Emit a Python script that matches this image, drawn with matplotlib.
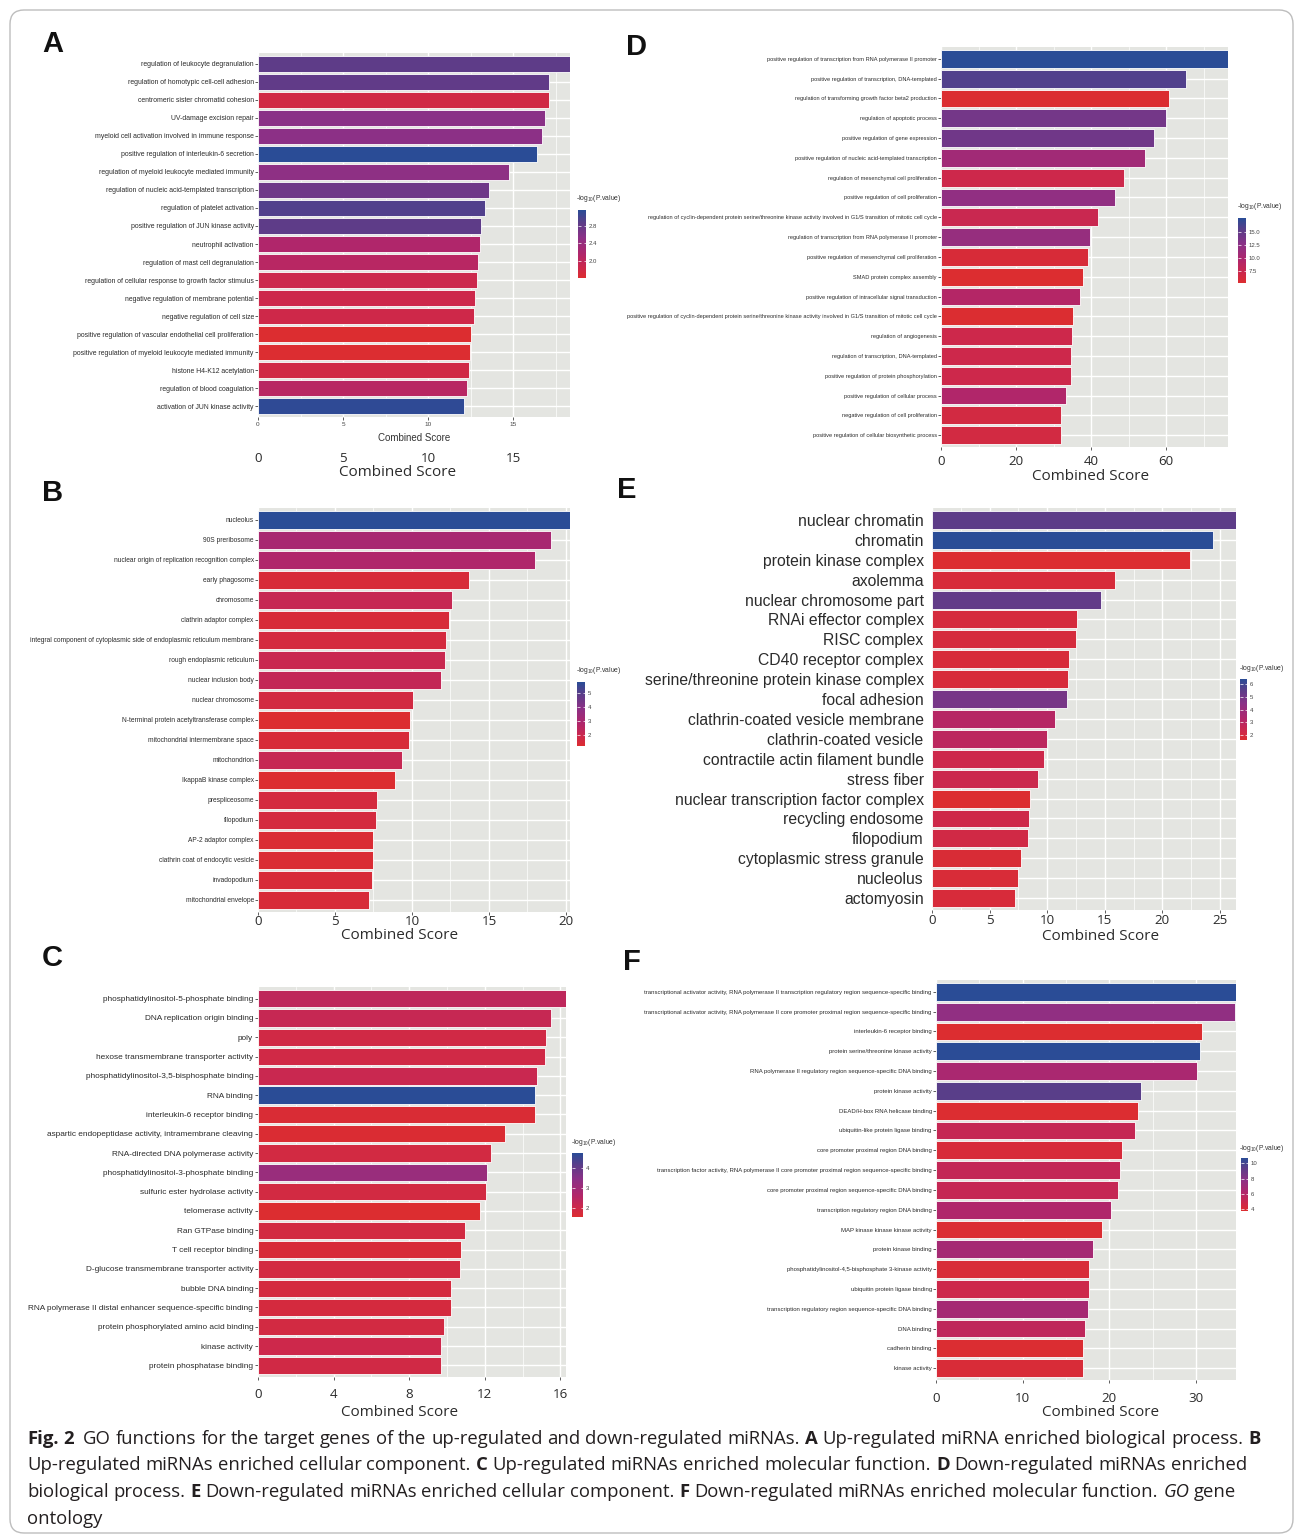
import matplotlib
matplotlib.use('Agg')
import matplotlib.pyplot as plt
import numpy as np
from matplotlib.colors import LinearSegmentedColormap, Normalize
from matplotlib.cm import ScalarMappable
from matplotlib.patches import FancyBboxPatch
from matplotlib.transforms import IdentityTransform, blended_transform_factory

# ---------------- data (top bar first) ----------------
a_terms = ["regulation of leukocyte degranulation", "regulation of homotypic cell-cell adhesion",
           "centromeric sister chromatid cohesion", "UV-damage excision repair",
           "myeloid cell activation involved in immune response",
           "positive regulation of interleukin-6 secretion",
           "regulation of myeloid leukocyte mediated immunity",
           "regulation of nucleic acid-templated transcription", "regulation of platelet activation",
           "positive regulation of JUN kinase activity", "neutrophil activation",
           "regulation of mast cell degranulation",
           "regulation of cellular response to growth factor stimulus",
           "negative regulation of membrane potential", "negative regulation of cell size",
           "positive regulation of vascular endothelial cell proliferation",
           "positive regulation of myeloid leukocyte mediated immunity", "histone H4-K12 acetylation",
           "regulation of blood coagulation", "activation of JUN kinase activity"]
a_score = [18.33, 17.10, 17.10, 16.84, 16.71, 16.41, 14.76, 13.57, 13.35, 13.12,
           13.02, 12.92, 12.86, 12.76, 12.71, 12.51, 12.43, 12.37, 12.25, 12.12]
a_logp = [2.84, 2.82, 1.80, 2.54, 2.52, 3.15, 2.50, 2.72, 2.92, 2.84,
          2.16, 2.08, 1.86, 1.85, 1.84, 1.62, 1.63, 1.80, 2.08, 3.12]

b_terms = ["nucleolus", "90S preribosome", "nuclear origin of replication recognition complex",
           "early phagosome", "chromosome", "clathrin adaptor complex",
           "integral component of cytoplasmic side of endoplasmic reticulum membrane",
           "rough endoplasmic reticulum", "nuclear inclusion body", "nuclear chromosome",
           "N-terminal protein acetyltransferase complex", "mitochondrial intermembrane space",
           "mitochondrion", "IkappaB kinase complex", "prespliceosome", "filopodium",
           "AP-2 adaptor complex", "clathrin coat of endocytic vesicle", "invadopodium",
           "mitochondrial envelope"]
b_score = [20.26, 19.03, 17.99, 13.7, 12.6, 12.4, 12.2, 12.14, 11.88, 10.06,
           9.87, 9.8, 9.35, 8.9, 7.73, 7.66, 7.47, 7.47, 7.4, 7.2]
b_logp = [5.75, 3.02, 2.79, 1.43, 2.11, 1.43, 1.56, 2.02, 2.20, 1.66,
          1.20, 1.43, 2.11, 1.21, 1.56, 1.56, 1.29, 1.29, 1.43, 1.43]

c_terms = ["phosphatidylinositol-5-phosphate binding", "DNA replication origin binding", "poly",
           "hexose transmembrane transporter activity",
           "phosphatidylinositol-3,5-bisphosphate binding", "RNA binding",
           "interleukin-6 receptor binding",
           "aspartic endopeptidase activity, intramembrane cleaving",
           "RNA-directed DNA polymerase activity", "phosphatidylinositol-3-phosphate binding",
           "sulfuric ester hydrolase activity", "telomerase activity", "Ran GTPase binding",
           "T cell receptor binding", "D-glucose transmembrane transporter activity",
           "bubble DNA binding", "RNA polymerase II distal enhancer sequence-specific binding",
           "protein phosphorylated amino acid binding", "kinase activity",
           "protein phosphatase binding"]
c_score = [16.3, 15.5, 15.24, 15.19, 14.76, 14.66, 14.66, 13.07, 12.33, 12.12,
           12.06, 11.75, 10.95, 10.74, 10.69, 10.21, 10.21, 9.84, 9.68, 9.68]
c_logp = [2.35, 2.19, 1.93, 1.95, 2.13, 4.75, 1.65, 1.61, 1.87, 3.15,
          1.88, 1.55, 1.87, 1.71, 1.86, 1.81, 1.81, 1.87, 2.03, 1.93]

d_terms = ["positive regulation of transcription from RNA polymerase II promoter",
           "positive regulation of transcription, DNA-templated",
           "regulation of transforming growth factor beta2 production",
           "regulation of apoptotic process", "positive regulation of gene expression",
           "positive regulation of nucleic acid-templated transcription",
           "regulation of mesenchymal cell proliferation",
           "positive regulation of cell proliferation",
           "regulation of cyclin-dependent protein serine/threonine kinase activity involved in G1/S transition of mitotic cell cycle",
           "regulation of transcription from RNA polymerase II promoter",
           "positive regulation of mesenchymal cell proliferation", "SMAD protein complex assembly",
           "positive regulation of intracellular signal transduction",
           "positive regulation of cyclin-dependent protein serine/threonine kinase activity involved in G1/S transition of mitotic cell cycle",
           "regulation of angiogenesis", "regulation of transcription, DNA-templated",
           "positive regulation of protein phosphorylation",
           "positive regulation of cellular process", "negative regulation of cell proliferation",
           "positive regulation of cellular biosynthetic process"]
d_score = [76.5, 65.4, 60.7, 60.1, 56.8, 54.4, 48.9, 46.5, 41.8, 39.8,
           39.1, 37.9, 37.1, 35.3, 34.9, 34.6, 34.6, 33.4, 32.1, 32.1]
d_logp = [17.8, 15.9, 5.2, 14.0, 14.2, 10.8, 7.0, 12.1, 7.4, 11.7,
          5.7, 5.1, 9.2, 5.2, 7.0, 7.0, 7.0, 9.5, 6.4, 6.4]

e_terms = ["nuclear chromatin", "chromatin", "protein kinase complex", "axolemma",
           "nuclear chromosome part", "RNAi effector complex", "RISC complex",
           "CD40 receptor complex", "serine/threonine protein kinase complex", "focal adhesion",
           "clathrin-coated vesicle membrane", "clathrin-coated vesicle",
           "contractile actin filament bundle", "stress fiber",
           "nuclear transcription factor complex", "recycling endosome", "filopodium",
           "cytoplasmic stress granule", "nucleolus", "actomyosin"]
e_score = [26.4, 24.4, 22.4, 15.85, 14.7, 12.6, 12.5, 11.9, 11.8, 11.7,
           10.7, 10.0, 9.7, 9.2, 8.5, 8.4, 8.3, 7.7, 7.5, 7.2]
e_logp = [5.45, 6.4, 1.65, 1.9, 5.35, 2.0, 2.0, 1.9, 1.9, 4.9,
          3.1, 2.9, 2.35, 2.4, 1.63, 2.3, 2.2, 1.8, 1.85, 1.9]

f_terms = ["transcriptional activator activity, RNA polymerase II transcription regulatory region sequence-specific binding",
           "transcriptional activator activity, RNA polymerase II core promoter proximal region sequence-specific binding",
           "interleukin-6 receptor binding", "protein serine/threonine kinase activity",
           "RNA polymerase II regulatory region sequence-specific DNA binding",
           "protein kinase activity", "DEAD/H-box RNA helicase binding",
           "ubiquitin-like protein ligase binding", "core promoter proximal region DNA binding",
           "transcription factor activity, RNA polymerase II core promoter proximal region sequence-specific binding",
           "core promoter proximal region sequence-specific DNA binding",
           "transcription regulatory region DNA binding", "MAP kinase kinase kinase activity",
           "protein kinase binding", "phosphatidylinositol-4,5-bisphosphate 3-kinase activity",
           "ubiquitin protein ligase binding",
           "transcription regulatory region sequence-specific DNA binding", "DNA binding",
           "cadherin binding", "kinase activity"]
f_score = [34.6, 34.5, 30.7, 30.4, 30.1, 23.7, 23.3, 22.9, 21.5, 21.2,
           20.96, 20.2, 19.1, 18.15, 17.7, 17.7, 17.5, 17.2, 17.0, 16.96]
f_logp = [10.65, 7.6, 3.8, 10.6, 6.5, 9.4, 3.85, 5.2, 4.2, 5.3,
          5.2, 6.2, 3.9, 6.7, 4.1, 4.8, 6.7, 5.5, 3.9, 4.1]

# ---------------- style ----------------
W, H = 1295, 1535
SMALL = 'Liberation Sans'

plt.rcParams['font.family'] = ['Open Sans', 'DejaVu Sans']
plt.rcParams['mathtext.fontset'] = 'custom'
plt.rcParams['mathtext.rm'] = SMALL

PANEL_BG = '#E4E5E1'
TXT = '#2B2B2B'
cmap = LinearSegmentedColormap.from_list('redblue', [
    (0.0, '#DC2D30'), (0.15, '#CD284B'), (0.35, '#B0266B'),
    (0.6, '#8A3187'), (0.8, '#5E3C88'), (1.0, '#2A4C96')])

fig = plt.figure(figsize=(W / 100, H / 100), dpi=100)


def rect_px(x0, y0, x1, y1):
    return [x0 / W, 1 - y1 / H, (x1 - x0) / W, (y1 - y0) / H]


def bar_panel(box, terms, score, logp, major, minor, label_font, label_size, label_pad):
    ax = fig.add_axes(rect_px(*box))
    norm = Normalize(min(logp), max(logp))
    ypos = np.arange(len(terms))
    ax.barh(ypos, score, height=0.9, color=cmap(norm(np.asarray(logp))),
            edgecolor='white', linewidth=0.6, zorder=3)
    ax.set_xlim(0, max(score))
    ax.set_ylim(len(terms) - 0.4, -0.6)
    ax.set_facecolor(PANEL_BG)
    ax.set_xticks(major)
    ax.set_xticks(minor, minor=True)
    ax.set_yticks(ypos)
    ax.set_yticklabels(terms, family=label_font, fontsize=label_size, color=TXT)
    ax.grid(which='major', color='white', linewidth=1.0)
    ax.grid(which='minor', axis='x', color='white', linewidth=0.5)
    ax.set_axisbelow(True)
    ax.tick_params(axis='y', length=2, width=0.6, color='#444444', pad=label_pad)
    ax.tick_params(axis='x', which='major', length=2, width=0.6, color='#444444')
    ax.tick_params(axis='x', which='minor', length=0)
    for sp in ax.spines.values():
        sp.set_visible(False)
    return ax, norm


def big_xticks(ax, pad):
    ax.tick_params(axis='x', which='major', pad=pad, labelsize=9.6, labelcolor=TXT)
    for t in ax.get_xticklabels():
        t.set_family('Open Sans')


def colorbar(box, norm, ticks, labels, title_x, title_y):
    cax = fig.add_axes(rect_px(*box))
    cb = fig.colorbar(ScalarMappable(norm=norm, cmap=cmap), cax=cax, ticks=ticks)
    cb.outline.set_visible(False)
    cb.set_ticklabels(labels)
    cax.tick_params(length=1.8, width=0.5, color='white', direction='in',
                    labelsize=4.3, pad=2, labelcolor='#444444', left=True)
    for t in cax.get_yticklabels():
        t.set_family(SMALL)
    fig.text(title_x / W, 1 - title_y / H, r'-log$_{10}$(P.value)', family=SMALL,
             fontsize=4.9, color='#333333', va='center', ha='left')


def px_text(x, y, s, **kw):
    fig.text(x / W, 1 - y / H, s, **kw)


# ---------------- panel A ----------------
axA, nA = bar_panel((258, 53, 570, 417), a_terms, a_score, a_logp,
                    [0, 5, 10, 15], [2.5, 7.5, 12.5, 17.5], SMALL, 4.95, 1)
axA.tick_params(axis='x', pad=1.5, labelsize=4.6, labelcolor='#444444')
for t in axA.get_xticklabels():
    t.set_family(SMALL)
trA = blended_transform_factory(axA.transData, axA.transAxes)
for v in [0, 5, 10, 15]:
    axA.text(v, -41 / 364, str(v), transform=trA, ha='center', va='center',
             fontsize=9.6, color=TXT, family='Open Sans')
px_text(414, 438, 'Combined Score', family=SMALL, fontsize=7.0, color='#333333',
        ha='center', va='center')
px_text(398, 473, 'Combined Score', fontsize=11, color=TXT, ha='center', va='center')
colorbar((578, 210, 586, 278), nA, [2.0, 2.4, 2.8], ['2.0', '2.4', '2.8'], 576, 198)

# ---------------- panel B ----------------
axB, nB = bar_panel((258, 508, 570, 912), b_terms, b_score, b_logp,
                    [0, 5, 10, 15, 20], [2.5, 7.5, 12.5, 17.5], SMALL, 4.75, 1)
big_xticks(axB, 0.5)
px_text(400, 935, 'Combined Score', fontsize=11, color=TXT, ha='center', va='center')
colorbar((577, 682, 585, 746), nB, [2, 3, 4, 5], ['2', '3', '4', '5'], 576, 671)

# ---------------- panel C ----------------
axC, nC = bar_panel((258, 987, 566, 1377), c_terms, c_score, c_logp,
                    [0, 4, 8, 12, 16], [2, 6, 10, 14], SMALL, 5.95, 1.5)
big_xticks(axC, 6)
px_text(400, 1412, 'Combined Score', fontsize=11, color=TXT, ha='center', va='center')
colorbar((572, 1153, 583, 1217), nC, [2, 3, 4], ['2', '3', '4'], 571, 1142)

# ---------------- panel D ----------------
axD, nD = bar_panel((941, 47, 1228, 447), d_terms, d_score, d_logp,
                    [0, 20, 40, 60], [10, 30, 50, 70], SMALL, 4.05, 1)
big_xticks(axD, 4)
px_text(1091, 476, 'Combined Score', fontsize=11, color=TXT, ha='center', va='center')
colorbar((1238, 218, 1246, 283), nD, [7.5, 10, 12.5, 15], ['7.5', '10.0', '12.5', '15.0'],
         1237, 206)

# ---------------- panel E ----------------
axE, nE = bar_panel((932, 508, 1236, 910), e_terms, e_score, e_logp,
                    [0, 5, 10, 15, 20, 25], [2.5, 7.5, 12.5, 17.5, 22.5], SMALL, 11.3, 6)
axE.tick_params(axis='y', length=0)
big_xticks(axE, 1)
px_text(1101, 936, 'Combined Score', fontsize=11, color=TXT, ha='center', va='center')
colorbar((1240, 679, 1247, 740), nE, [2, 3, 4, 5, 6], ['2', '3', '4', '5', '6'], 1239, 668)

# ---------------- panel F ----------------
axF, nF = bar_panel((936, 980, 1236, 1380), f_terms, f_score, f_logp,
                    [0, 10, 20, 30], [5, 15, 25], SMALL, 4.3, 1)
big_xticks(axF, 7)
px_text(1101, 1412, 'Combined Score', fontsize=11, color=TXT, ha='center', va='center')
colorbar((1241, 1158, 1248, 1211), nF, [4, 6, 8, 10], ['4', '6', '8', '10'], 1239, 1149)

# ---------------- panel letters ----------------
for letter, x, y in [('A', 53, 44), ('B', 53, 493), ('C', 52, 958),
                     ('D', 637, 47), ('E', 627, 490), ('F', 632, 962)]:
    px_text(x, y, letter, family='Liberation Sans', fontweight='bold', fontsize=21,
            color='#111111', ha='center', va='center')

# ---------------- caption ----------------
caption = [
    [("Fig. 2", "bold"),
     ("GO functions for the target genes of the up-regulated and down-regulated miRNAs.", "normal"),
     ("A", "bold"), ("Up-regulated miRNA enriched biological process.", "normal"), ("B", "bold")],
    [("Up-regulated miRNAs enriched cellular component.", "normal"), ("C", "bold"),
     ("Up-regulated miRNAs enriched molecular function.", "normal"), ("D", "bold"),
     ("Down-regulated miRNAs enriched", "normal")],
    [("biological process.", "normal"), ("E", "bold"),
     ("Down-regulated miRNAs enriched cellular component.", "normal"), ("F", "bold"),
     ("Down-regulated miRNAs enriched molecular function.", "normal"), ("GO", "italic"),
     ("gene", "normal")],
    [("ontology", "normal")],
]
CAP_SIZE = 13.3
CAP_COLOR = '#231F20'
renderer = fig.canvas.get_renderer()
probe1 = fig.text(0, 0, 'x x', fontsize=CAP_SIZE)
probe2 = fig.text(0, 0, 'xx', fontsize=CAP_SIZE)
space = probe1.get_window_extent(renderer).width - probe2.get_window_extent(renderer).width
probe1.remove()
probe2.remove()

for line, base in zip(caption, [1444, 1470.5, 1497, 1524]):
    x = 27
    for text, style in line:
        for word in text.split(' '):
            t = fig.text(x / W, 1 - base / H, word, fontsize=CAP_SIZE, color=CAP_COLOR,
                         fontweight='bold' if style == 'bold' else 'normal',
                         fontstyle='italic' if style == 'italic' else 'normal',
                         ha='left', va='baseline')
            x += t.get_window_extent(renderer).width + space
            if style == 'bold' and word == '2':
                x += space

# ---------------- outer frame ----------------
frame = FancyBboxPatch((10, H - 1533), 1283, 1523, boxstyle='round,pad=0,rounding_size=14',
                       transform=IdentityTransform(), fill=False, edgecolor='#BDBDBD',
                       linewidth=1.0)
fig.add_artist(frame)

fig.savefig('out.png', dpi=100)
